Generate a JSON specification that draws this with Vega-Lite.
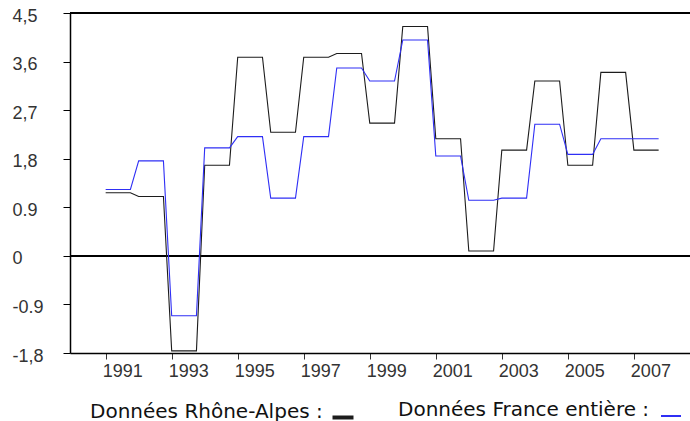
{
  "$schema": "https://vega.github.io/schema/vega-lite/v6.json",
  "width": 620,
  "height": 340,
  "autosize": {"type": "none"},
  "padding": {"left": 70, "top": 13, "right": 0, "bottom": 68},
  "config": {"view": {"stroke": null}, "axis": {"grid": false}},
  "data": {
    "values": [
      {"annee": 1991.0, "rhone": 1.17, "france": 1.23},
      {"annee": 1991.75, "rhone": 1.17, "france": 1.23},
      {"annee": 1992.0, "rhone": 1.10, "france": 1.76},
      {"annee": 1992.75, "rhone": 1.10, "france": 1.76},
      {"annee": 1993.0, "rhone": -1.76, "france": -1.11},
      {"annee": 1993.75, "rhone": -1.76, "france": -1.11},
      {"annee": 1994.0, "rhone": 1.68, "france": 2.00},
      {"annee": 1994.75, "rhone": 1.68, "france": 2.00},
      {"annee": 1995.0, "rhone": 3.68, "france": 2.21},
      {"annee": 1995.75, "rhone": 3.68, "france": 2.21},
      {"annee": 1996.0, "rhone": 2.29, "france": 1.07},
      {"annee": 1996.75, "rhone": 2.29, "france": 1.07},
      {"annee": 1997.0, "rhone": 3.68, "france": 2.21},
      {"annee": 1997.75, "rhone": 3.68, "france": 2.21},
      {"annee": 1998.0, "rhone": 3.75, "france": 3.48},
      {"annee": 1998.75, "rhone": 3.75, "france": 3.48},
      {"annee": 1999.0, "rhone": 2.46, "france": 3.24},
      {"annee": 1999.75, "rhone": 2.46, "france": 3.24},
      {"annee": 2000.0, "rhone": 4.25, "france": 4.00},
      {"annee": 2000.75, "rhone": 4.25, "france": 4.00},
      {"annee": 2001.0, "rhone": 2.17, "france": 1.85},
      {"annee": 2001.75, "rhone": 2.17, "france": 1.85},
      {"annee": 2002.0, "rhone": 0.09, "france": 1.03},
      {"annee": 2002.75, "rhone": 0.09, "france": 1.03},
      {"annee": 2003.0, "rhone": 1.96, "france": 1.07},
      {"annee": 2003.75, "rhone": 1.96, "france": 1.07},
      {"annee": 2004.0, "rhone": 3.24, "france": 2.44},
      {"annee": 2004.75, "rhone": 3.24, "france": 2.44},
      {"annee": 2005.0, "rhone": 1.68, "france": 1.88},
      {"annee": 2005.75, "rhone": 1.68, "france": 1.88},
      {"annee": 2006.0, "rhone": 3.40, "france": 2.17},
      {"annee": 2006.75, "rhone": 3.40, "france": 2.17},
      {"annee": 2007.0, "rhone": 1.96, "france": 2.17},
      {"annee": 2007.75, "rhone": 1.96, "france": 2.17}
    ]
  },
  "layer": [
    {
      "mark": {"type": "rule", "color": "#000", "strokeWidth": 2},
      "encoding": {
        "y": {"datum": 4.5, "type": "quantitative", "title": null}
      }
    },
    {
      "mark": {"type": "rule", "color": "#000", "strokeWidth": 1},
      "encoding": {
        "y": {"datum": 0, "type": "quantitative", "title": null}
      }
    },
    {
      "mark": {"type": "line", "strokeWidth": 1.1},
      "encoding": {
        "x": {
          "field": "annee",
          "type": "quantitative",
          "title": null,
          "scale": {"domain": [1989.92, 2008.7], "nice": false, "zero": false},
          "axis": {
            "values": [1991, 1991.25, 1991.5, 1991.75, 1992, 1992.25, 1992.5, 1992.75, 1993, 1993.25, 1993.5, 1993.75, 1994, 1994.25, 1994.5, 1994.75, 1995, 1995.25, 1995.5, 1995.75, 1996, 1996.25, 1996.5, 1996.75, 1997, 1997.25, 1997.5, 1997.75, 1998, 1998.25, 1998.5, 1998.75, 1999, 1999.25, 1999.5, 1999.75, 2000, 2000.25, 2000.5, 2000.75, 2001, 2001.25, 2001.5, 2001.75, 2002, 2002.25, 2002.5, 2002.75, 2003, 2003.25, 2003.5, 2003.75, 2004, 2004.25, 2004.5, 2004.75, 2005, 2005.25, 2005.5, 2005.75, 2006, 2006.25, 2006.5, 2006.75, 2007, 2007.25, 2007.5, 2007.75],
            "domainColor": "#000",
            "domainWidth": 1.5,
            "tickColor": "#333",
            "tickSize": {"condition": {"test": "datum.value % 1 == 0", "value": 6}, "value": 3},
            "labelExpr": "datum.value % 2 == 1 ? '' + datum.value : ''",
            "labelOffset": 16.5,
            "labelPadding": 3,
            "labelFont": "Liberation Sans",
            "labelFontSize": 18,
            "labelColor": "#333",
            "labelFlush": false,
            "labelOverlap": false,
            "labelBound": false
          }
        },
        "y": {
          "field": "rhone",
          "type": "quantitative",
          "title": null,
          "scale": {"domain": [-1.8, 4.5], "nice": false, "zero": false},
          "axis": {
            "values": [-1.8, -0.9, 0, 0.9, 1.8, 2.7, 3.6, 4.5],
            "domainColor": "#000",
            "domainWidth": 1.5,
            "tickColor": "#000",
            "tickSize": 7,
            "labelAlign": "left",
            "labelPadding": 51,
            "labelOffset": 3,
            "labelExpr": "datum.value == 4.5 ? '4,5' : datum.value == 3.6 ? '3,6' : datum.value == 2.7 ? '2,7' : datum.value == 1.8 ? '1,8' : datum.value == 0.9 ? '0.9' : datum.value == 0 ? '0' : datum.value == -0.9 ? '-0.9' : '-1,8'",
            "labelFont": "Liberation Sans",
            "labelFontSize": 18,
            "labelColor": "#333",
            "labelOverlap": false,
            "labelFlush": false
          }
        },
        "color": {
          "datum": "Données Rhône-Alpes :",
          "scale": {"range": ["#1c1c1c"]},
          "legend": {
            "title": null,
            "orient": "none",
            "legendX": 20,
            "legendY": 392,
            "padding": 0,
            "symbolType": "stroke",
            "symbolSize": 441,
            "symbolStrokeWidth": 4,
            "symbolOffset": 240.5,
            "labelOffset": -265.5,
            "labelBaseline": "alphabetic",
            "labelFont": "DejaVu Sans",
            "labelFontSize": 20,
            "labelColor": "#111",
            "labelLimit": 400,
            "encode": {"symbols": {"update": {"stroke": {"value": "#000"}}}}
          }
        }
      }
    },
    {
      "mark": {"type": "line", "strokeWidth": 1.1},
      "encoding": {
        "x": {"field": "annee", "type": "quantitative", "title": null},
        "y": {"field": "france", "type": "quantitative", "title": null},
        "color": {
          "datum": "Données France entière :",
          "scale": {"range": ["#2f2ff5"]},
          "legend": {
            "title": null,
            "orient": "none",
            "legendX": 330,
            "legendY": 392,
            "padding": 0,
            "symbolType": "stroke",
            "symbolSize": 400,
            "symbolStrokeWidth": 2,
            "symbolOffset": 260,
            "labelOffset": -284,
            "labelBaseline": "alphabetic",
            "labelFont": "DejaVu Sans",
            "labelFontSize": 20,
            "labelColor": "#111",
            "labelLimit": 400,
            "encode": {"symbols": {"update": {"stroke": {"value": "#6aa6f0"}}}}
          }
        }
      }
    }
  ],
  "resolve": {"scale": {"color": "independent"}}
}
